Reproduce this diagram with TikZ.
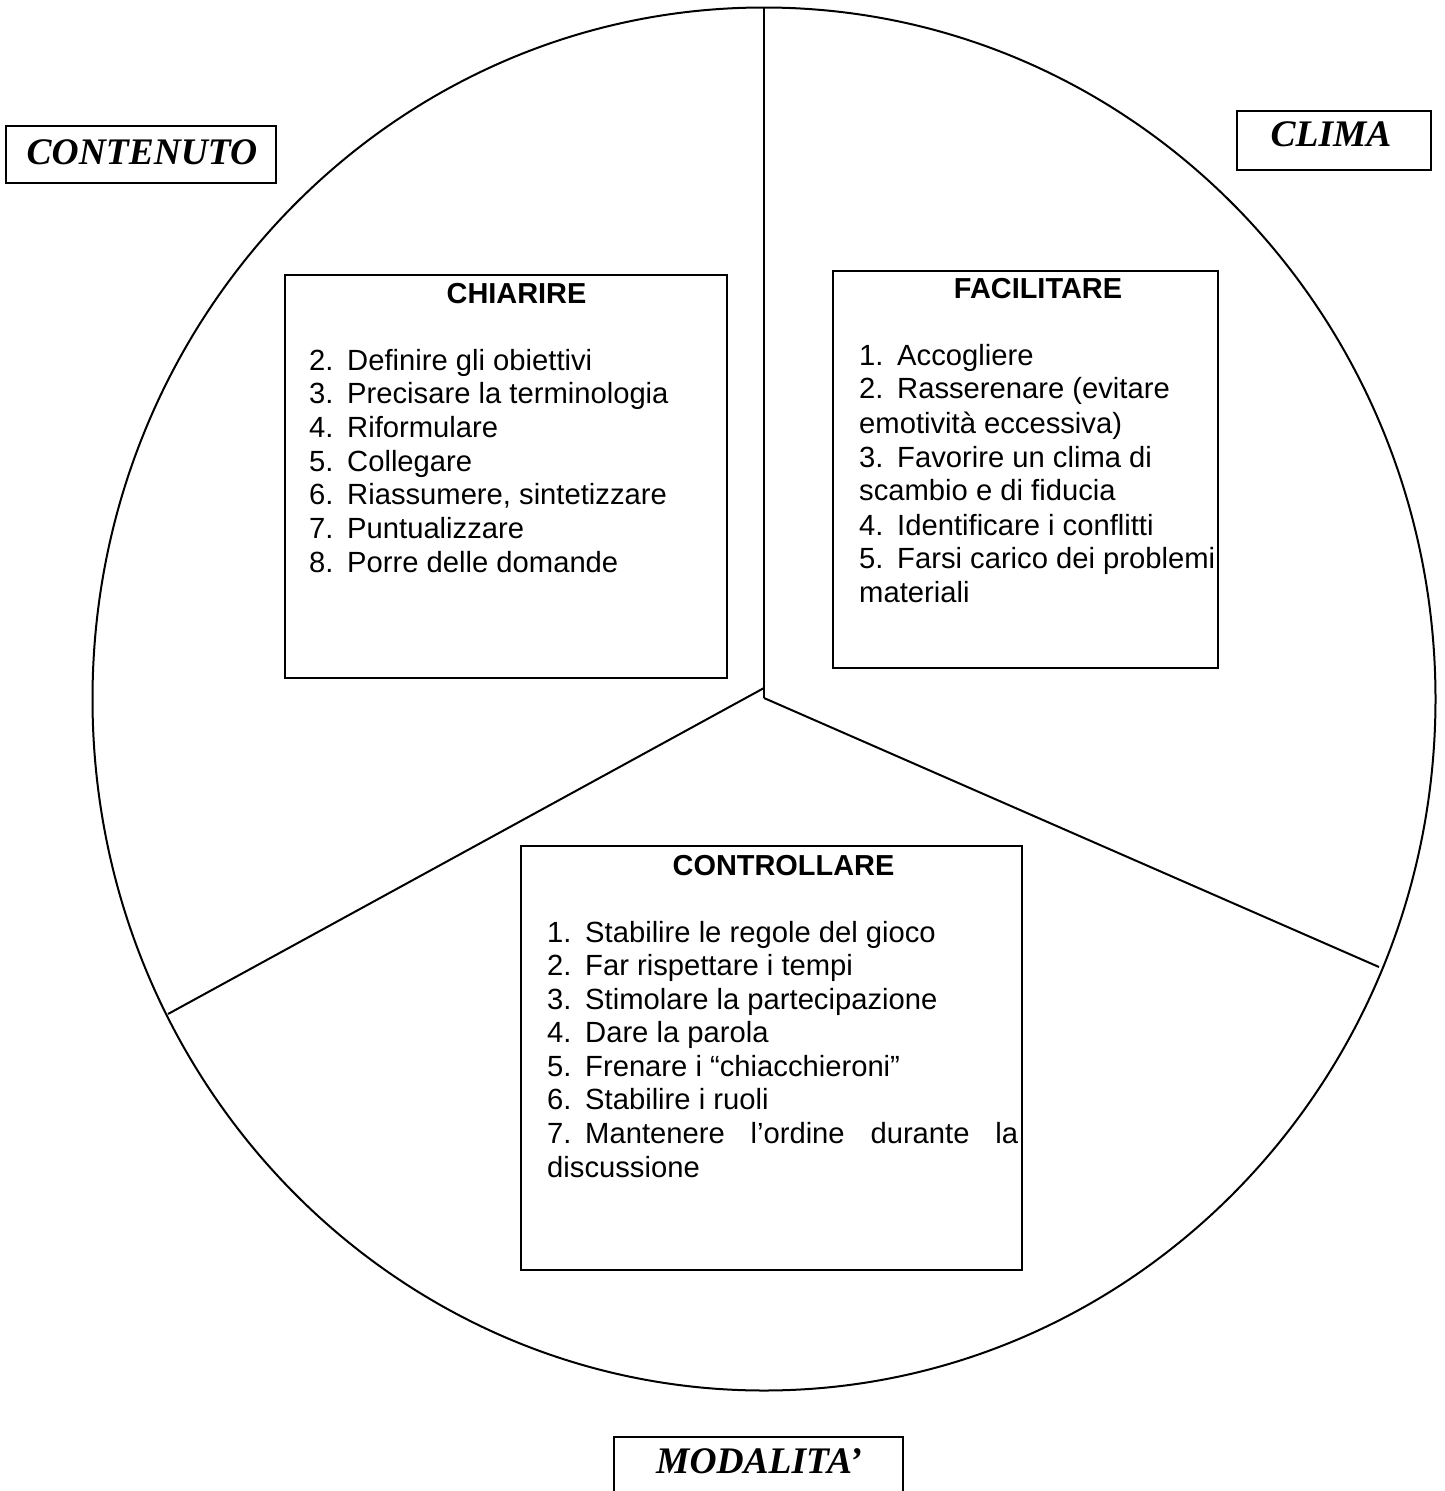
\documentclass[tikz,border=0pt]{standalone}
\usepackage{fontspec}
\setmainfont{Liberation Serif}
\newfontfamily\arialfont{Liberation Sans}
\usetikzlibrary{shapes.geometric}

\begin{document}
\begin{tikzpicture}[x=1pt, y=-1pt,
  panel/.style={draw, line width=2pt, inner sep=0pt, outer sep=0pt, anchor=north west},
  heading/.style={font=\arialfont\bfseries\fontsize{28.9}{34}\selectfont, inner sep=0pt, anchor=base},
  item/.style={font=\arialfont\fontsize{29.2}{34}\selectfont, inner sep=0pt, anchor=base west},
  tagtext/.style={font=\bfseries\itshape\fontsize{37.5}{40}\selectfont, inner sep=0pt, anchor=base},
  divider/.style={line width=2pt}]
  \useasboundingbox (0,0) rectangle (1445,1491);
  \clip (0,0) rectangle (1445,1491);

  % the wheel and its three sectors
  \node[ellipse, draw, line width=2pt, inner sep=0pt, outer sep=0pt,
        minimum width=1343pt, minimum height=1383pt] (wheel) at (764,699) {};
  \coordinate (hub-left) at (764,688);
  \coordinate (hub-right) at (764,698);
  \coordinate (rim-left) at (168,1014);
  \coordinate (rim-right) at (1379,967);
  \draw[divider] (wheel.north) -- (hub-right);
  \draw[divider] (hub-left) -- (rim-left);
  \draw[divider] (hub-right) -- (rim-right);

  % sector labels
  \node[panel, minimum width=270pt, minimum height=57pt] (contenuto) at (6,126) {};
  \node[tagtext] (contenuto-text) at (142,164) {CONTENUTO};
  \node[panel, minimum width=194pt, minimum height=59pt] (clima) at (1237,111) {};
  \node[tagtext] (clima-text) at (1331,146) {CLIMA};
  \node[panel, minimum width=289pt, minimum height=90pt] (modalita) at (614,1437) {};
  \node[tagtext] (modalita-text) at (759,1473) {MODALITA’};

  % CHIARIRE
  \node[panel, minimum width=442pt, minimum height=403pt] (chiarire) at (285,275) {};
  \node[heading] (chiarire-title) at (516.5,303) {CHIARIRE};
  \foreach \nr/\txt [count=\i] in {2/Definire gli obiettivi, 3/Precisare la terminologia,
      4/Riformulare, 5/Collegare, 6/Riassumere{,} sintetizzare, 7/Puntualizzare,
      8/Porre delle domande} {
    \node[item] (chiarire-num-\i) at (309, {370+33.7*(\i-1)}) {\nr.};
    \node[item] (chiarire-item-\i) at (347, {370+33.7*(\i-1)}) {\txt};
  }

  % FACILITARE
  \node[panel, minimum width=385pt, minimum height=397pt] (facilitare) at (833,271) {};
  \node[heading] (facilitare-title) at (1038,298) {FACILITARE};
  \foreach \nr/\txt/\y in {1/Accogliere/365, 2/Rasserenare (evitare/398,
      3/Favorire un clima di/467, 4/Identificare i conflitti/535,
      5/Farsi carico dei problemi/568} {
    \node[item] (facilitare-num-\nr) at (859,\y) {\nr.};
    \node[item] (facilitare-item-\nr) at (897,\y) {\txt};
  }
  \foreach \txt/\y [count=\i] in {emotività eccessiva)/433, scambio e di fiducia/500,
      materiali/602}
    \node[item] (facilitare-cont-\i) at (859,\y) {\txt};

  % CONTROLLARE
  \node[panel, minimum width=501pt, minimum height=424pt] (controllare) at (521,846) {};
  \node[heading] (controllare-title) at (783.5,875) {CONTROLLARE};
  \foreach \txt [count=\i] in {Stabilire le regole del gioco, Far rispettare i tempi,
      Stimolare la partecipazione, Dare la parola, Frenare i “chiacchieroni”,
      Stabilire i ruoli} {
    \node[item] (controllare-num-\i) at (547, {942+33.5*(\i-1)}) {\i.};
    \node[item] (controllare-item-\i) at (585, {942+33.5*(\i-1)}) {\txt};
  }
  \node[item] (controllare-num-7) at (547,1143) {7.};
  \node[item] (controllare-item-7) at (585,1143) {\makebox[433pt][s]{Mantenere l’ordine durante la}};
  \node[item] (controllare-cont-7) at (547,1177) {discussione};
\end{tikzpicture}
\end{document}
